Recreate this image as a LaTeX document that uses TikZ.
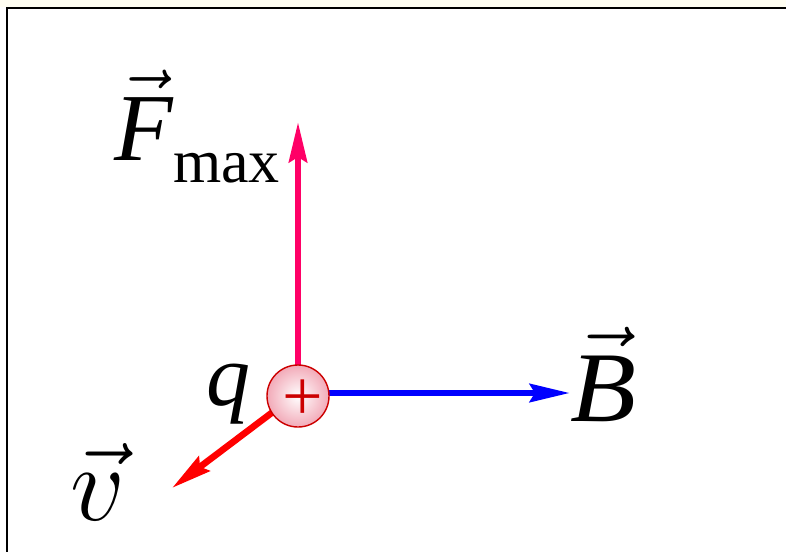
\RequirePackage{fix-cm}
\documentclass[tikz,border=0pt]{standalone}
\usepackage{fontspec}
\setmainfont{Liberation Serif}
\usepackage{amsmath}
\usetikzlibrary{arrows.meta}

\definecolor{forcepink}{RGB}{255,0,102}
\definecolor{chargered}{RGB}{204,0,0}
\definecolor{chargepink}{RGB}{242,170,184}

\begin{document}
\begin{tikzpicture}[x=0.5pt,y=-0.5pt]
    \tikzstyle{vecarrow} = [line width=3.3pt, -{Stealth[length=20pt,width=9pt,inset=2.5pt]}]
    \tikzstyle{charge} = [circle, draw=chargered, line width=0.7pt, inner color=white, outer color=chargepink, minimum size=31pt, inner sep=0pt]
    \tikzstyle{sym} = [inner sep=0pt, font=\fontsize{48}{52}\selectfont]
    \useasboundingbox (0,0) rectangle (786,551);
    \fill[yellow!5] (0,0) rectangle (786,7);
    \draw[line width=1.2pt] (7,560) |- (800,8);
    \coordinate (O) at (298,393);
    \coordinate (Ftip) at (298,122);
    \coordinate (Btip) at (570,393);
    \coordinate (vtip) at (172,488);
    \draw [vecarrow, forcepink] (O) -- (Ftip);
    \draw [vecarrow, blue] (O) -- (Btip);
    \draw [vecarrow, red] (O) -- (vtip);
    \node [charge] (q0) at (298,396) {};
    \node [text=chargered, inner sep=0pt, font=\fontsize{36}{36}\selectfont] (plus) at (303,400) {+};
    \node [sym, anchor=base west] (Flabel) at (114,160) {$\vec{\textit{F}}$\raisebox{-11pt}{\fontsize{31}{31}\selectfont max}};
    \node [sym, anchor=base west, font=\fontsize{50}{54}\selectfont] (Blabel) at (570,421) {\scalebox{1.08}[1]{$\vec{\textit{B}}$}};
    \node [sym, anchor=base west, font=\fontsize{44}{48}\selectfont] (qlabel) at (206,405) {\textit{q}};
    \node [sym, anchor=base west, font=\fontsize{54}{58}\selectfont] (vlabel) at (70,520) {$\vec{v}$};
\end{tikzpicture}
\end{document}
